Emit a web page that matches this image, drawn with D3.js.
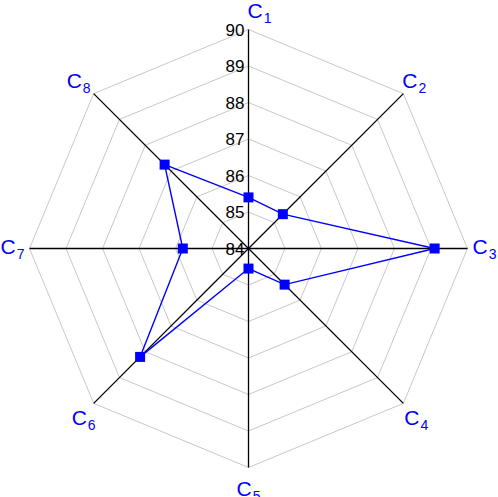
<!DOCTYPE html>
<html>
<head>
<meta charset="utf-8">
<script src="https://cdn.jsdelivr.net/npm/d3@7"></script>
<style>
  body { margin: 0; background: #fff; }
  svg { display: block; font-family: "Liberation Sans", Arial, sans-serif; }
</style>
</head>
<body>
<div id="chart"></div>
<script>
// data
var categories = ["1", "2", "3", "4", "5", "6", "7", "8"];
var values = [85.4, 85.33, 89.1, 85.4, 84.55, 88.2, 85.8, 87.25];
var ticks = [84, 85, 86, 87, 88, 89, 90];

var width = 498, height = 497;
var cx = 248.5, cy = 248.5, R = 219;

var svg = d3.select("#chart").append("svg")
  .attr("width", width)
  .attr("height", height);

var r = d3.scaleLinear().domain([84, 90]).range([0, R]);
var angle = d3.scalePoint().domain(categories).range([0, 2 * Math.PI * 7 / 8]);

function pt(cat, v) {
  var a = angle(cat), d = r(v);
  return [cx + d * Math.sin(a), cy - d * Math.cos(a)];
}

// grid rings
var ring = d3.line();
svg.append("g").selectAll("path")
  .data(ticks.filter(t => t > 84))
  .enter().append("path")
  .attr("d", t => ring(categories.map(c => pt(c, t))) + "Z")
  .attr("fill", "none")
  .attr("stroke", "#c8c8c8")
  .attr("stroke-width", 1);

// axes
svg.append("g").selectAll("line")
  .data(categories)
  .enter().append("line")
  .attr("x1", cx).attr("y1", cy)
  .attr("x2", c => pt(c, 90)[0])
  .attr("y2", c => pt(c, 90)[1])
  .attr("stroke", "#000")
  .attr("stroke-width", 1.3);

// tick labels
svg.append("g").selectAll("text")
  .data(ticks)
  .enter().append("text")
  .attr("x", cx - 4)
  .attr("y", t => cy - r(t))
  .attr("dy", "0.36em")
  .attr("text-anchor", "end")
  .attr("font-size", 17)
  .attr("fill", "#000")
  .text(t => t);

// category labels
function labelPos(c) {
  var a = angle(c), s = Math.sin(a), co = Math.cos(a);
  var e = pt(c, 90), x, y, anchor;
  if (Math.abs(s) < 0.1) {
    if (co > 0) { x = cx - 1; y = e[1] - 12; anchor = "start"; }
    else { x = cx; y = e[1] + 28; anchor = "middle"; }
  } else if (Math.abs(co) < 0.1) {
    x = e[0] + (s > 0 ? 5 : -5); y = cy + 5; anchor = s > 0 ? "start" : "end";
  } else {
    x = e[0] + (s > 0 ? -1 : -3);
    if (co < 0) x = e[0] + (s > 0 ? 1 : 2);
    y = co > 0 ? e[1] - 6 : e[1] + 22;
    anchor = s > 0 ? "start" : "end";
  }
  return { x: x, y: y, anchor: anchor };
}

var labels = svg.append("g").selectAll("text")
  .data(categories)
  .enter().append("text")
  .attr("x", c => labelPos(c).x)
  .attr("y", c => labelPos(c).y)
  .attr("text-anchor", c => labelPos(c).anchor)
  .attr("fill", "#0000ff")
  .attr("font-size", 21);
labels.append("tspan").text("C");
labels.append("tspan")
  .attr("font-size", 14)
  .attr("dy", 5)
  .attr("dx", 1)
  .text(c => c);

// data polygon
var series = categories.map((c, i) => pt(c, values[i]));
svg.append("path")
  .attr("d", d3.line()(series) + "Z")
  .attr("fill", "none")
  .attr("stroke", "#0000ff")
  .attr("stroke-width", 1.4);

svg.append("g").selectAll("rect")
  .data(series)
  .enter().append("rect")
  .attr("x", d => d[0] - 5)
  .attr("y", d => d[1] - 5)
  .attr("width", 10)
  .attr("height", 10)
  .attr("fill", "#0000ff");
</script>
</body>
</html>
